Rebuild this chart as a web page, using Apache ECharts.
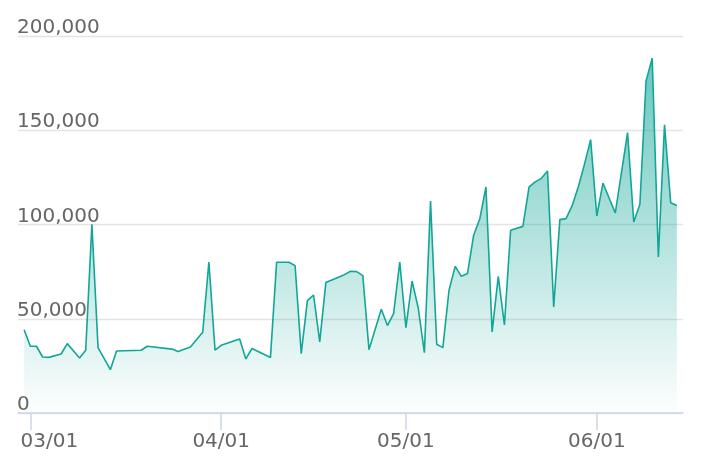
<!DOCTYPE html>
<html>
<head>
<meta charset="utf-8">
<title>daily volume</title>
<script src="https://cdn.jsdelivr.net/npm/echarts@6/dist/echarts.min.js"></script>
<style>
  html, body { margin: 0; padding: 0; background: #fff; }
  #chart { width: 702px; height: 472px; }
</style>
</head>
<body>
<div id="chart"></div>
<script>
// 日期（只保留折线上有拐点的日子）
const dates = [
  '2019-02-28', '2019-03-01', '2019-03-02', '2019-03-03', '2019-03-04', '2019-03-06',
  '2019-03-07', '2019-03-09', '2019-03-10', '2019-03-11', '2019-03-12', '2019-03-14',
  '2019-03-15', '2019-03-19', '2019-03-20', '2019-03-24', '2019-03-25', '2019-03-27',
  '2019-03-29', '2019-03-30', '2019-03-31',
  '2019-04-01', '2019-04-04', '2019-04-05', '2019-04-06', '2019-04-09', '2019-04-10',
  '2019-04-12', '2019-04-13', '2019-04-14', '2019-04-15', '2019-04-16', '2019-04-17',
  '2019-04-18', '2019-04-21', '2019-04-22', '2019-04-23', '2019-04-24', '2019-04-25',
  '2019-04-27', '2019-04-28', '2019-04-29', '2019-04-30',
  '2019-05-01', '2019-05-02', '2019-05-03', '2019-05-04', '2019-05-05', '2019-05-06',
  '2019-05-07', '2019-05-08', '2019-05-09', '2019-05-10', '2019-05-11', '2019-05-12',
  '2019-05-13', '2019-05-14', '2019-05-15', '2019-05-16', '2019-05-17', '2019-05-18',
  '2019-05-20', '2019-05-21', '2019-05-22', '2019-05-23', '2019-05-24', '2019-05-25',
  '2019-05-26', '2019-05-27', '2019-05-28', '2019-05-29', '2019-05-30', '2019-05-31',
  '2019-06-01', '2019-06-02', '2019-06-04', '2019-06-06', '2019-06-07', '2019-06-08',
  '2019-06-09', '2019-06-10', '2019-06-11', '2019-06-12', '2019-06-13', '2019-06-14'
]

const values = [
  44200, 35400, 35400, 29700, 29500, 31300,
  36800, 29200, 33300, 100100, 34700, 23000,
  32900, 33300, 35400, 33900, 32600, 35000,
  42800, 80100, 33300,
  35900, 39300, 28700, 34200, 29400, 80000,
  80000, 78200, 31500, 59600, 62600, 37700,
  69200, 73400, 75200, 75000, 72900, 33600,
  55000, 46400, 52700, 80100,
  45300, 70000, 55700, 32000, 112500, 36500,
  34700, 65100, 77800, 72500, 74000, 94300,
  103100, 119900, 43000, 72500, 46700, 96900,
  99000, 119900, 122600, 124500, 128400, 56200,
  102600, 103100, 110000, 120000, 132000, 145000,
  104500, 122000, 106100, 148800, 101300, 110700,
  176200, 188200, 82800, 152900, 111500, 110100
]

// 坐标轴范围
const xMin = '2019-02-27'
const xMax = '2019-06-15'
const yTicks = [0, 50000, 100000, 150000, 200000]

const DAY = 24 * 3600 * 1000
const lineColor = '#12a698'
const textColor = '#666666'
const fontFamily = 'DejaVu Sans'

const pad2 = (n) => (n < 10 ? '0' + n : '' + n)

// x 轴标签：MM/DD，最左边的标签往右挪一点，不超出网格
const firstLabel = '03/01'
const formatDay = (value) => {
  const d = new Date(value)
  const text = pad2(d.getMonth() + 1) + '/' + pad2(d.getDate())
  return text === firstLabel ? '{first|' + text + '}' : '{normal|' + text + '}'
}

const labelText = { color: textColor, fontSize: 20, fontFamily: fontFamily }

const chart = echarts.init(document.getElementById('chart'), null, { renderer: 'canvas' })

const option = {
  animation: false,
  grid: {
    left: 18,
    right: 19,
    top: 36,
    bottom: 59,
    containLabel: false,
  },
  xAxis: {
    type: 'time',
    min: xMin,
    max: xMax,
    minInterval: 28 * DAY,
    maxInterval: 31 * DAY,
    axisLine: { lineStyle: { color: '#ccd6eb', width: 1.5 } },
    axisTick: { length: 17, lineStyle: { color: '#ccd6eb', width: 1.5 } },
    axisLabel: {
      formatter: formatDay,
      ...labelText,
      margin: 19,
      hideOverlap: false,
      rich: {
        normal: { ...labelText },
        first: { ...labelText, padding: [0, 0, 0, 38] },
      },
    },
    splitLine: { show: false },
  },
  yAxis: {
    type: 'value',
    min: yTicks[0],
    max: yTicks[yTicks.length - 1],
    interval: yTicks[1] - yTicks[0],
    axisLine: { show: false },
    axisTick: { show: false },
    axisLabel: {
      inside: true,
      margin: -1,
      verticalAlign: 'bottom',
      lineHeight: 16,
      ...labelText,
    },
    splitLine: { lineStyle: { color: '#e4e4e4', width: 1.3 } },
  },
  series: [
    {
      type: 'line',
      data: dates.map((d, i) => [d, values[i]]),
      symbol: 'none',
      lineStyle: { color: lineColor, width: 1.6 },
      areaStyle: {
        color: new echarts.graphic.LinearGradient(0, 0, 0, 1, [
          { offset: 0, color: 'rgba(18,166,152,0.9)' },
          { offset: 1, color: 'rgba(18,166,152,0.01)' },
        ]),
      },
    },
  ],
}

chart.setOption(option)
</script>
</body>
</html>
